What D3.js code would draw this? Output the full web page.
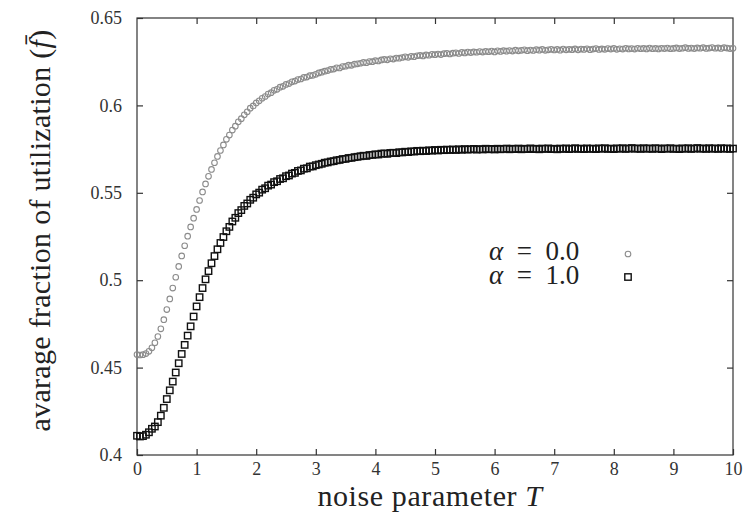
<!DOCTYPE html>
<html>
<head>
<meta charset="utf-8">
<script src="https://cdn.jsdelivr.net/npm/d3@7"></script>
<style>
  html, body { margin: 0; padding: 0; background: #fff; }
</style>
</head>
<body>
<svg id="chart" width="748" height="527" style="font-family: 'Liberation Serif', 'Times New Roman', 'DejaVu Serif', serif;"></svg>
<script>
// noise parameter T is sampled every 0.05 from 0 to 10
const tStep = 0.05;

// alpha = 0.0 (grey circles), one value per T sample
const alpha0 = [
  .4575,.4572,.4574,.4580,.4593,.4613,.4642,.4678,.4722,.4774,
  .4832,.4893,.4955,.5017,.5079,.5139,.5197,.5252,.5305,.5355,
  .5405,.5456,.5505,.5551,.5594,.5634,.5672,.5708,.5742,.5774,
  .5806,.5830,.5859,.5881,.5906,.5924,.5946,.5963,.5984,.5997,
  .6014,.6026,.6041,.6051,.6065,.6073,.6086,.6092,.6104,.6109,
  .6120,.6125,.6135,.6139,.6148,.6151,.6160,.6162,.6170,.6172,
  .6178,.6186,.6190,.6196,.6199,.6206,.6208,.6215,.6214,.6222,
  .6224,.6230,.6229,.6236,.6238,.6241,.6246,.6244,.6251,.6250,
  .6256,.6254,.6260,.6263,.6261,.6267,.6265,.6271,.6270,.6274,
  .6278,.6275,.6281,.6279,.6284,.6286,.6283,.6289,.6287,.6292,
  .6290,.6294,.6291,.6296,.6298,.6294,.6299,.6301,.6297,.6303,
  .6300,.6305,.6302,.6306,.6304,.6308,.6305,.6309,.6307,.6311,
  .6306,.6312,.6309,.6313,.6310,.6314,.6311,.6316,.6312,.6315,
  .6318,.6313,.6317,.6314,.6319,.6316,.6320,.6315,.6318,.6321,
  .6317,.6320,.6316,.6322,.6318,.6321,.6319,.6323,.6318,.6322,
  .6320,.6324,.6319,.6322,.6325,.6320,.6323,.6321,.6325,.6322,
  .6326,.6321,.6324,.6322,.6327,.6323,.6325,.6322,.6327,.6324,
  .6326,.6323,.6328,.6324,.6326,.6323,.6327,.6325,.6328,.6324,
  .6326,.6329,.6325,.6327,.6330,.6326,.6328,.6325,.6329,.6327,
  .6330,.6326,.6328,.6331,.6327,.6329,.6326,.6330,.6328,.6325,
  .6327
];

// alpha = 1.0 (black squares)
const alpha1 = [
  .4110,.4106,.4108,.4116,.4130,.4150,.4163,.4188,.4225,.4270,
  .4320,.4370,.4420,.4472,.4525,.4578,.4630,.4683,.4736,.4792,
  .4850,.4903,.4955,.5005,.5052,.5097,.5138,.5177,.5213,.5247,
  .5280,.5305,.5336,.5357,.5384,.5401,.5425,.5439,.5460,.5472,
  .5491,.5501,.5518,.5526,.5541,.5547,.5561,.5566,.5579,.5583,
  .5595,.5599,.5610,.5614,.5625,.5628,.5638,.5640,.5650,.5651,
  .5658,.5662,.5666,.5672,.5674,.5679,.5681,.5686,.5688,.5693,
  .5694,.5699,.5700,.5704,.5706,.5709,.5712,.5711,.5716,.5717,
  .5720,.5719,.5724,.5725,.5723,.5728,.5729,.5727,.5732,.5731,
  .5735,.5733,.5737,.5736,.5740,.5738,.5741,.5739,.5743,.5741,
  .5745,.5742,.5746,.5744,.5747,.5745,.5748,.5745,.5749,.5746,
  .5750,.5747,.5749,.5751,.5747,.5750,.5748,.5752,.5749,.5751,
  .5748,.5752,.5749,.5751,.5753,.5749,.5752,.5750,.5753,.5749,
  .5752,.5750,.5754,.5750,.5752,.5749,.5753,.5751,.5754,.5750,
  .5752,.5749,.5753,.5751,.5754,.5750,.5752,.5755,.5751,.5753,
  .5750,.5754,.5751,.5753,.5750,.5754,.5752,.5755,.5751,.5753,
  .5750,.5754,.5752,.5755,.5751,.5753,.5756,.5752,.5754,.5751,
  .5755,.5752,.5754,.5751,.5755,.5753,.5750,.5754,.5752,.5755,
  .5751,.5753,.5750,.5754,.5752,.5755,.5751,.5753,.5756,.5752,
  .5754,.5751,.5755,.5752,.5754,.5751,.5755,.5752,.5754,.5751,
  .5753
];

const xTicks = [0, 1, 2, 3, 4, 5, 6, 7, 8, 9, 10];
const yTicks = [0.4, 0.45, 0.5, 0.55, 0.6, 0.65];
const yTickLabels = ["0.4", "0.45", "0.5", "0.55", "0.6", "0.65"];
const legendLabels = ["0.0", "1.0"];

const FONT = "'Liberation Serif', 'Times New Roman', 'DejaVu Serif', serif";
const svg = d3.select("#chart");
const width = 748, height = 527;
const margin = { top: 18, right: 15, bottom: 72, left: 137 };

const x = d3.scaleLinear().domain([0, 10]).range([margin.left, width - margin.right]);
const y = d3.scaleLinear().domain([0.4, 0.65]).range([height - margin.bottom, margin.top]);

const tickLen = 6;

// frame
svg.append("rect")
    .attr("x", x(0)).attr("y", y(0.65))
    .attr("width", x(10) - x(0)).attr("height", y(0.4) - y(0.65))
    .attr("fill", "none").attr("stroke", "#333").attr("stroke-width", 1.2);

function styleAxis(g, labels) {
    g.attr("font-family", FONT);
    g.select(".domain").remove();
    g.selectAll("line").attr("stroke", "#333").attr("stroke-width", 1.2);
    if (labels) g.selectAll("text").style("font-family", FONT).attr("font-size", 18).attr("fill", "#333");
}

// bottom axis, ticks point inward
const axBottom = svg.append("g")
    .attr("transform", `translate(0,${y(0.4)})`)
    .call(d3.axisBottom(x).tickValues(xTicks).tickSizeInner(-tickLen).tickSizeOuter(0).tickPadding(7));
styleAxis(axBottom, true);

// top ticks, no labels
const axTop = svg.append("g")
    .attr("transform", `translate(0,${y(0.65)})`)
    .call(d3.axisTop(x).tickValues(xTicks.slice(1, -1)).tickSizeInner(-tickLen).tickSizeOuter(0).tickFormat(""));
styleAxis(axTop, false);

// left axis
const axLeft = svg.append("g")
    .attr("transform", `translate(${x(0)},0)`)
    .call(d3.axisLeft(y).tickValues(yTicks).tickSizeInner(-tickLen).tickSizeOuter(0).tickPadding(15)
        .tickFormat((d, i) => yTickLabels[i]));
styleAxis(axLeft, true);

// right ticks
const axRight = svg.append("g")
    .attr("transform", `translate(${x(10)},0)`)
    .call(d3.axisRight(y).tickValues(yTicks.slice(1, -1)).tickSizeInner(-tickLen).tickSizeOuter(0).tickFormat(""));
styleAxis(axRight, false);

// series
const circlesData = alpha0.map((v, i) => ({ t: i * tStep, v }));
const squaresData = alpha1.map((v, i) => ({ t: i * tStep, v }));

svg.append("g").selectAll("circle")
    .data(circlesData)
    .join("circle")
    .attr("cx", d => x(d.t))
    .attr("cy", d => y(d.v))
    .attr("r", 2.8)
    .attr("fill", "none")
    .attr("stroke", "#8c8c8c")
    .attr("stroke-width", 1.1);

const sq = 6.4;
svg.append("g").selectAll("rect")
    .data(squaresData)
    .join("rect")
    .attr("x", d => x(d.t) - sq / 2)
    .attr("y", d => y(d.v) - sq / 2)
    .attr("width", sq)
    .attr("height", sq)
    .attr("fill", "none")
    .attr("stroke", "#111")
    .attr("stroke-width", 1.4);

// legend
const legend = svg.append("g").style("font-family", FONT);
legendLabels.forEach((lab, i) => {
    const by = 260 + i * 24;
    const t = legend.append("text")
        .attr("x", 489).attr("y", by)
        .attr("font-size", 27)
        .attr("fill", "#222");
    t.append("tspan").attr("font-style", "italic").text("α");
    t.append("tspan").text("\u2002=\u2002" + lab);
});
legend.append("circle")
    .attr("cx", 628).attr("cy", 254).attr("r", 2.8)
    .attr("fill", "none").attr("stroke", "#8c8c8c").attr("stroke-width", 1.1);
legend.append("rect")
    .attr("x", 628 - sq / 2).attr("y", 277 - sq / 2).attr("width", sq).attr("height", sq)
    .attr("fill", "none").attr("stroke", "#111").attr("stroke-width", 1.4);

// axis titles
const xt = svg.append("text")
    .attr("x", 430).attr("y", 506)
    .attr("text-anchor", "middle")
    .attr("font-size", 30)
    .attr("letter-spacing", 0.6)
    .attr("fill", "#222")
    .style("font-family", FONT);
xt.append("tspan").text("noise parameter ");
xt.append("tspan").attr("font-style", "italic").text("T");

const yt = svg.append("text")
    .attr("transform", `translate(50,${(y(0.4) + y(0.65)) / 2 - 6}) rotate(-90)`)
    .attr("text-anchor", "middle")
    .attr("font-size", 30)
    .attr("letter-spacing", 0.3)
    .attr("fill", "#222")
    .style("font-family", FONT);
yt.append("tspan").text("avarage fraction of utilization (");
yt.append("tspan").attr("font-style", "italic").text("f\u0304");
yt.append("tspan").text(")");
</script>
</body>
</html>
